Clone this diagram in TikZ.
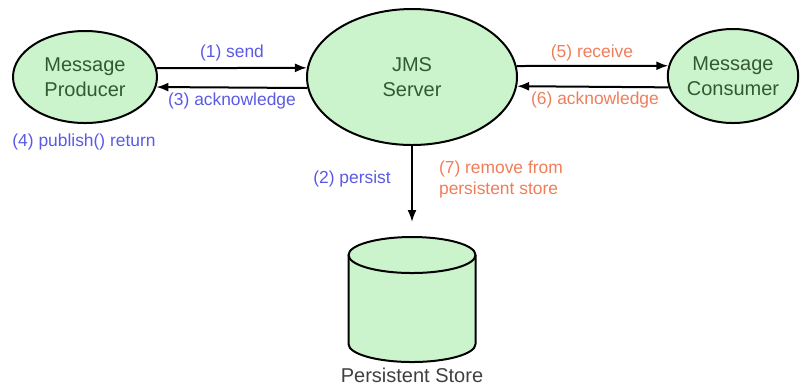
\documentclass[tikz,border=0pt]{standalone}
\usepackage{fontspec}
\setmainfont{Liberation Sans}
\usetikzlibrary{arrows.meta,shapes.geometric}
\definecolor{nodegreen}{RGB}{204,244,204}
\definecolor{nodetext}{RGB}{52,88,52}
\definecolor{lblblue}{RGB}{90,90,230}
\definecolor{lblorange}{RGB}{240,125,90}
\tikzset{
	msgnode/.style={ellipse, draw=black, line width=1pt, fill=nodegreen, text=nodetext, inner sep=0pt, align=center, font=\fontsize{10}{12.5}\selectfont},
	flow/.style={line width=1pt, -{Latex[length=6pt,width=4.5pt]}},
	bluelbl/.style={text=lblblue, font=\fontsize{8.7}{10.5}\selectfont},
	orangelbl/.style={text=lblorange, font=\fontsize{8.7}{10.5}\selectfont}
}

\begin{document}
\begin{tikzpicture}[x=0.5pt,y=-0.5pt]
			%%%%% START %%%%%
			\useasboundingbox (0,0) rectangle (801,388);
			
			\node[msgnode, minimum width=72pt, minimum height=46pt] (producer) at (85,77) {Message\\Producer};
			\node[msgnode, minimum width=105pt, minimum height=68pt] (server) at (412,77) {JMS\\Server};
			\node[msgnode, minimum width=65pt, minimum height=47pt] (consumer) at (733,76) {Message\\Consumer};
			
			% persistent store drum
			\filldraw[fill=nodegreen, line width=1pt] (348.5,255) -- (348.5,344) arc (180:360:31.75pt and 9pt) -- (475.5,255) arc (0:180:31.75pt and 9pt) -- cycle;
			\draw[line width=1pt] (348.5,255) arc (180:360:31.75pt and 9pt);
			\coordinate (storetop) at (412,237);
			\node[text=black!75, font=\fontsize{10}{12}\selectfont] (storelbl) at (412,375) {Persistent Store};
			
			\draw[flow] (producer.7) -- (server.175);
			\draw[flow] (server.-174.5) -- (producer.-8);
			\draw[flow] (server.6) -- (consumer.171);
			\draw[flow] (consumer.-170) -- (server.-5.5);
			\draw[flow, shorten >=7.5pt] (server.south) -- (storetop);
			
			\node[bluelbl] (sendlbl) at (232,53) {(1) send};
			\node[bluelbl] (ackthreelbl) at (232,101) {(3) acknowledge};
			\node[bluelbl] (publishlbl) at (84,142) {(4) publish() return};
			\node[orangelbl] (receivelbl) at (592,53) {(5) receive};
			\node[orangelbl] (acksixlbl) at (595,100) {(6) acknowledge};
			\node[bluelbl] (persistlbl) at (352,179) {(2) persist};
			\node[orangelbl, anchor=west, align=left] (removelbl) at (432,179.5) {(7) remove from\\persistent store};
			%%%%% END %%%%%
		\end{tikzpicture}
\end{document}
